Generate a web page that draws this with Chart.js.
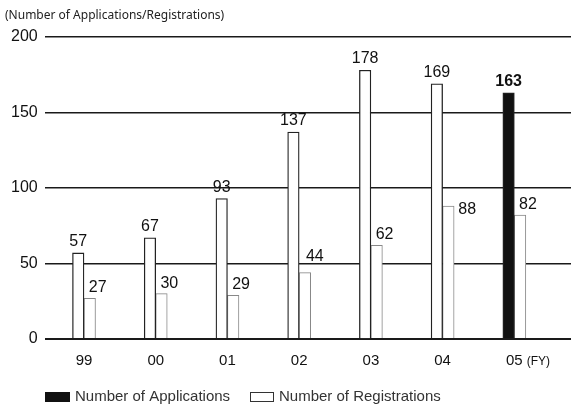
<!DOCTYPE html>
<html>
<head>
<meta charset="utf-8">
<script src="https://cdn.jsdelivr.net/npm/chart.js@4.4.0/dist/chart.umd.min.js"></script>
<style>
    html, body { margin: 0; padding: 0; background: #fff; }
    #contenedor { width: 573px; height: 404px; }
</style>
</head>
<body>
<div id="contenedor"><canvas id="grafica"></canvas></div>
<script>
// años fiscales y cantidades
var anios = ['99', '00', '01', '02', '03', '04', '05'];
var solicitudes = [57, 67, 93, 137, 178, 169, 163];
var registros = [27, 30, 29, 44, 62, 88, 82];
var marcasY = [0, 50, 100, 150, 200];

// corrimiento extra de la etiqueta de registros (la del 04 va al costado)
var corrimientoX = [0, 0, 0, 2, 0, 11, 0];
var corrimientoY = [0, 0, 0, -6, 0, 14, 0];

var fuente = '"Liberation Sans", Arial, sans-serif';
var ultimo = solicitudes.length - 1;

// textos que dibujo a mano: titulo, (FY), valores y leyenda
var textos = {
    id: 'textos',
    afterDatasetsDraw: function(chart) {
        var ctx = chart.ctx;
        ctx.save();
        ctx.fillStyle = '#111';

        // valores sobre las barras de solicitudes
        var barrasSol = chart.getDatasetMeta(0).data;
        ctx.textAlign = 'center';
        ctx.textBaseline = 'alphabetic';
        for (var i = 0; i < barrasSol.length; i++) {
            ctx.font = (i === ultimo ? 'bold ' : '') + '16px ' + fuente;
            ctx.fillText(solicitudes[i], barrasSol[i].x, barrasSol[i].y - 7);
        }

        // valores de registros, corridos a la derecha
        var barrasReg = chart.getDatasetMeta(1).data;
        ctx.textAlign = 'left';
        ctx.font = '16px ' + fuente;
        for (var j = 0; j < barrasReg.length; j++) {
            ctx.fillText(registros[j], barrasReg[j].x - 1 + corrimientoX[j], barrasReg[j].y - 6 + corrimientoY[j]);
        }

        // titulo del eje
        ctx.fillStyle = '#222';
        ctx.font = '12px "Noto Sans", sans-serif';
        ctx.textBaseline = 'middle';
        ctx.fillText('(Number of Applications/Registrations)', 5, 16);

        // (FY) despues del ultimo año
        var ejeX = chart.scales.x;
        ctx.font = '15px ' + fuente;
        var anchoAnio = ctx.measureText(anios[ultimo]).width;
        ctx.font = '12px ' + fuente;
        ctx.fillStyle = '#111';
        ctx.fillText('(FY)', ejeX.getPixelForValue(ultimo) + anchoAnio / 2 + 4, chart.chartArea.bottom + 23);

        // leyenda
        var ds = chart.data.datasets;
        ctx.font = '15px ' + fuente;
        ctx.fillStyle = '#111';
        ctx.fillRect(45, 392, 25, 10);
        ctx.strokeStyle = '#333';
        ctx.lineWidth = 1;
        ctx.strokeRect(250.5, 392.5, 23, 9);
        ctx.fillStyle = '#333';
        ctx.fillText(ds[0].label, 75, 397);
        ctx.fillText(ds[1].label, 279, 397);

        ctx.restore();
    }
};

new Chart(document.getElementById('grafica'), {
    type: 'bar',
    data: {
        datasets: [
            {
                label: 'Number of Applications',
                data: solicitudes.map(function(v, i) { return { x: i, y: v }; }),
                backgroundColor: solicitudes.map(function(v, i) { return i === ultimo ? '#111' : '#fff'; }),
                borderColor: '#222',
                borderWidth: 1.3,
                barThickness: 11.5
            },
            {
                label: 'Number of Registrations',
                data: registros.map(function(v, i) { return { x: i, y: v }; }),
                backgroundColor: '#fff',
                borderColor: '#888',
                borderWidth: 1,
                barThickness: 11.5
            }
        ]
    },
    options: {
        responsive: true,
        maintainAspectRatio: false,
        animation: false,
        layout: { padding: { left: 4, right: 2, top: 37, bottom: 21 } },
        plugins: {
            legend: { display: false },
            tooltip: { enabled: false }
        },
        scales: {
            x: {
                type: 'linear',
                offset: false,
                min: -0.548,
                max: 6.79,
                grid: { display: false, drawTicks: false },
                border: { display: false },
                afterBuildTicks: function(eje) {
                    eje.ticks = anios.map(function(a, i) { return { value: i }; });
                },
                ticks: {
                    autoSkip: false,
                    maxRotation: 0,
                    padding: 13,
                    color: '#111',
                    font: { family: fuente, size: 15 },
                    callback: function(valor) { return anios[valor]; }
                }
            },
            y: {
                min: 0,
                max: 200,
                afterBuildTicks: function(eje) {
                    eje.ticks = marcasY.map(function(m) { return { value: m }; });
                },
                grid: {
                    color: '#1a1a1a',
                    drawTicks: false,
                    lineWidth: function(c) { return c.tick && c.tick.value === 0 ? 2 : 1.6; }
                },
                border: { display: false },
                ticks: {
                    padding: 7,
                    color: '#111',
                    font: { family: fuente, size: 16 }
                }
            }
        }
    },
    plugins: [textos]
});
</script>
</body>
</html>
